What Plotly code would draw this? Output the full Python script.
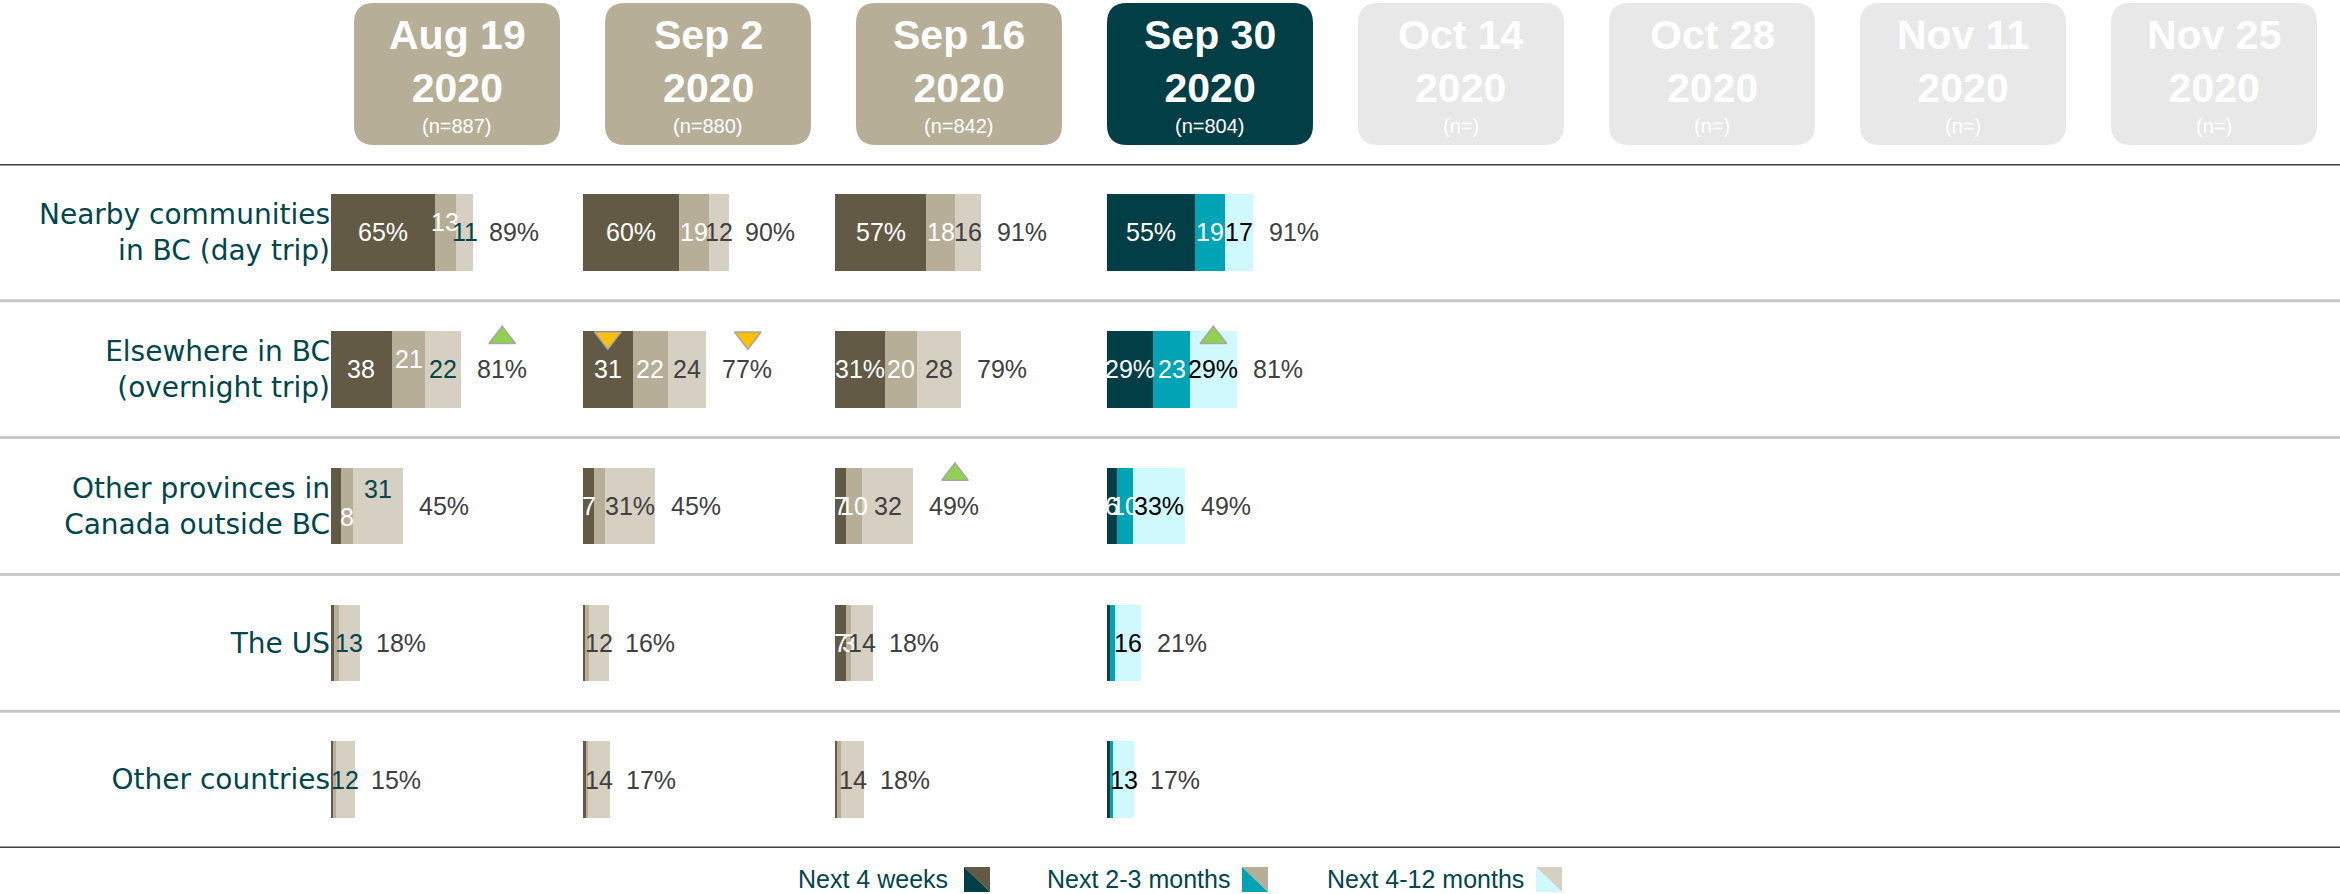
import plotly.graph_objects as go

W, H = 2340, 894

waves = ["Aug 19", "Sep 2", "Sep 16", "Sep 30", "Oct 14", "Oct 28", "Nov 11", "Nov 25"]
years = ["2020"] * 8
sample_sizes = ["887", "880", "842", "804", "", "", "", ""]
current_wave = "Sep 30"

destinations = ["Nearby communities<br>in BC (day trip)", "Elsewhere in BC<br>(overnight trip)",
                "Other provinces in<br>Canada outside BC", "The US", "Other countries"]
segments = ["Next 4 weeks", "Next 2-3 months", "Next 4-12 months"]

# % of travellers planning a trip, by wave (rows follow destinations)
next_4_weeks = {
    "Aug 19": [65, 38, 6, 2, 1],
    "Sep 2": [60, 31, 7, 1, 2],
    "Sep 16": [57, 31, 7, 7, 1],
    "Sep 30": [55, 29, 6, 2, 2],
}
next_2_3_months = {
    "Aug 19": [13, 21, 8, 3, 2],
    "Sep 2": [19, 22, 7, 3, 1],
    "Sep 16": [18, 20, 10, 3, 3],
    "Sep 30": [19, 23, 10, 3, 2],
}
next_4_12_months = {
    "Aug 19": [11, 22, 31, 13, 12],
    "Sep 2": [12, 24, 31, 12, 14],
    "Sep 16": [16, 28, 32, 14, 14],
    "Sep 30": [17, 29, 33, 16, 13],
}
totals = {
    "Aug 19": [89, 81, 45, 18, 15],
    "Sep 2": [90, 77, 45, 16, 17],
    "Sep 16": [91, 79, 49, 18, 18],
    "Sep 30": [91, 81, 49, 21, 17],
}
# significant change vs previous wave: (wave, row, segment index or "total", direction)
sig_changes = [
    ("Aug 19", 1, "total", "up"),
    ("Sep 2", 1, 0, "down"),
    ("Sep 2", 1, "total", "down"),
    ("Sep 16", 2, "total", "up"),
    ("Sep 30", 1, 2, "up"),
]
# labels written with a % sign, and labels left out (segment too thin)
pct_labels = {("Aug 19", 0, 0), ("Sep 2", 0, 0), ("Sep 16", 0, 0), ("Sep 30", 0, 0),
              ("Sep 16", 1, 0), ("Sep 30", 1, 0), ("Sep 30", 1, 2),
              ("Sep 2", 2, 2), ("Sep 30", 2, 2)}
hidden_labels = {("Aug 19", 2, 0), ("Aug 19", 3, 0), ("Aug 19", 3, 1), ("Aug 19", 4, 0), ("Aug 19", 4, 1),
                 ("Sep 2", 2, 1), ("Sep 2", 3, 0), ("Sep 2", 3, 1), ("Sep 2", 4, 0), ("Sep 2", 4, 1),
                 ("Sep 16", 4, 0), ("Sep 16", 4, 1),
                 ("Sep 30", 3, 0), ("Sep 30", 3, 1), ("Sep 30", 4, 0), ("Sep 30", 4, 1)}
label_nudge = {("Aug 19", 0, 1): 10, ("Aug 19", 1, 1): 10, ("Aug 19", 2, 2): 17, ("Aug 19", 2, 1): -11}

past_colors = ["#625A45", "#B6AE97", "#D5D0C1"]
current_colors = ["#013E45", "#00A4B4", "#D0F9FD"]
future_box = "#E8E8E8"
teal_text = "#00464B"
grey_text = "#404040"
num_font = "Liberation Sans, Arial, sans-serif"

col_starts = [331, 583, 835, 1107]
col_width = 250
px_per_pct = 1.6


def px(x):
    return x / W


def py(y):
    return 1 - y / H


def rounded_box(x0, x1, y0, y1, r):
    return (f"M {px(x0 + r)},{py(y0)} L {px(x1 - r)},{py(y0)} Q {px(x1)},{py(y0)} {px(x1)},{py(y0 + r)} "
            f"L {px(x1)},{py(y1 - r)} Q {px(x1)},{py(y1)} {px(x1 - r)},{py(y1)} "
            f"L {px(x0 + r)},{py(y1)} Q {px(x0)},{py(y1)} {px(x0)},{py(y1 - r)} "
            f"L {px(x0)},{py(y0 + r)} Q {px(x0)},{py(y0)} {px(x0 + r)},{py(y0)} Z")


fig = go.Figure()
annotations = []
shapes = []
rows = list(range(len(destinations)))
data_waves = list(next_4_weeks.keys())

for i, w in enumerate(data_waves):
    xa = "x" if i == 0 else f"x{i + 1}"
    colors = current_colors if w == current_wave else past_colors
    if w == current_wave:
        lbl_colors = ["white", "white", "black"]
    elif i == 0:
        lbl_colors = ["white", "white", teal_text]
    else:
        lbl_colors = ["white", "white", grey_text]
    seg_vals = [next_4_weeks[w], next_2_3_months[w], next_4_12_months[w]]
    for s, vals in enumerate(seg_vals):
        fig.add_trace(go.Bar(x=vals, y=rows, orientation="h", xaxis=xa, yaxis="y",
                             marker=dict(color=colors[s], line=dict(width=0)),
                             width=0.56, name=segments[s], showlegend=False))
    for r in rows:
        base = 0
        for s, vals in enumerate(seg_vals):
            v = vals[r]
            key = (w, r, s)
            if key not in hidden_labels:
                txt = f"{v}%" if key in pct_labels else f"{v}"
                annotations.append(dict(x=base + v / 2, y=r, xref=xa, yref="y", text=txt,
                                        showarrow=False, xanchor="center", yanchor="middle",
                                        yshift=label_nudge.get(key, 0),
                                        font=dict(family=num_font, size=25, color=lbl_colors[s])))
            base += v
        annotations.append(dict(x=base, y=r, xref=xa, yref="y", text=f"{totals[w][r]}%",
                                showarrow=False, xanchor="left", yanchor="middle", xshift=14,
                                font=dict(family=num_font, size=25, color=grey_text)))
    # significance triangles
    for sw, r, pos, d in sig_changes:
        if sw != w:
            continue
        if pos == "total":
            xv = sum(v[r] for v in seg_vals) + 26
        else:
            xv = sum(v[r] for v in seg_vals[:pos]) + seg_vals[pos][r] / 2
        fig.add_trace(go.Scatter(
            x=[xv], y=[r - 0.23], xaxis=xa, yaxis="y", mode="markers", showlegend=False,
            marker=dict(symbol="triangle-up" if d == "up" else "triangle-down", size=23,
                        color="#92D050" if d == "up" else "#FFC000",
                        line=dict(color="#A6A6A6", width=1.5))))

layout_axes = {}
for i, start in enumerate(col_starts):
    name = "xaxis" if i == 0 else f"xaxis{i + 1}"
    layout_axes[name] = dict(domain=[px(start), px(start + col_width)],
                             range=[0, col_width / px_per_pct], visible=False,
                             anchor="y", fixedrange=True)

# header boxes
for i, w in enumerate(waves):
    cx = 457 + 251 * i
    if w == current_wave:
        fill = current_colors[0]
    elif w in next_4_weeks:
        fill = past_colors[1]
    else:
        fill = future_box
    shapes.append(dict(type="path", path=rounded_box(cx - 103, cx + 103, 3, 145, 20),
                       xref="paper", yref="paper", fillcolor=fill, line=dict(width=0), layer="below"))
    annotations.append(dict(x=px(cx), y=py(61), xref="paper", yref="paper",
                            xanchor="center", yanchor="middle",
                            text=f"<b>{w}<br>{years[i]}</b>", showarrow=False,
                            font=dict(family=num_font, size=41, color="white")))
    annotations.append(dict(x=px(cx), y=py(126), xref="paper", yref="paper",
                            xanchor="center", yanchor="middle",
                            text=f"(n={sample_sizes[i]})", showarrow=False,
                            font=dict(family=num_font, size=20, color="white")))

# row separators
for k in range(len(destinations) + 1):
    edge = k in (0, len(destinations))
    shapes.append(dict(type="line", xref="paper", yref="y", x0=0, x1=1, y0=k - 0.5, y1=k - 0.5,
                       line=dict(color="#404040" if edge else "#C8C8C8", width=3)))

# legend
legend_items = [(950, 964), (1232, 1242), (1526, 1536)]
for s, (tx, sx) in enumerate(legend_items):
    annotations.append(dict(x=px(tx), y=py(879), xref="paper", yref="paper", text=segments[s],
                            xanchor="right", yanchor="middle", showarrow=False,
                            font=dict(family=num_font, size=25, color=teal_text)))
    x0, x1, y0, y1 = sx, sx + 26, 867, 892
    shapes.append(dict(type="path", xref="paper", yref="paper", line=dict(width=0),
                       fillcolor=past_colors[s],
                       path=f"M {px(x0)},{py(y0)} L {px(x1)},{py(y0)} L {px(x1)},{py(y1)} Z"))
    shapes.append(dict(type="path", xref="paper", yref="paper", line=dict(width=0),
                       fillcolor=current_colors[s],
                       path=f"M {px(x0)},{py(y0)} L {px(x0)},{py(y1)} L {px(x1)},{py(y1)} Z"))

fig.update_layout(
    width=W, height=H,
    margin=dict(l=0, r=0, t=0, b=0),
    paper_bgcolor="white", plot_bgcolor="white",
    barmode="stack", showlegend=False,
    yaxis=dict(domain=[py(848), py(164)], range=[4.5, -0.5], anchor="x",
               tickvals=rows, ticktext=destinations, showgrid=False, zeroline=False,
               showline=False, ticks="", automargin=False, fixedrange=True,
               tickfont=dict(family="DejaVu Sans", size=28, color=teal_text)),
    annotations=annotations, shapes=shapes,
    **layout_axes,
)

fig.write_html("out.html", config={"displayModeBar": False},
               post_script="document.body.style.margin='0';document.body.style.overflow='hidden';")
